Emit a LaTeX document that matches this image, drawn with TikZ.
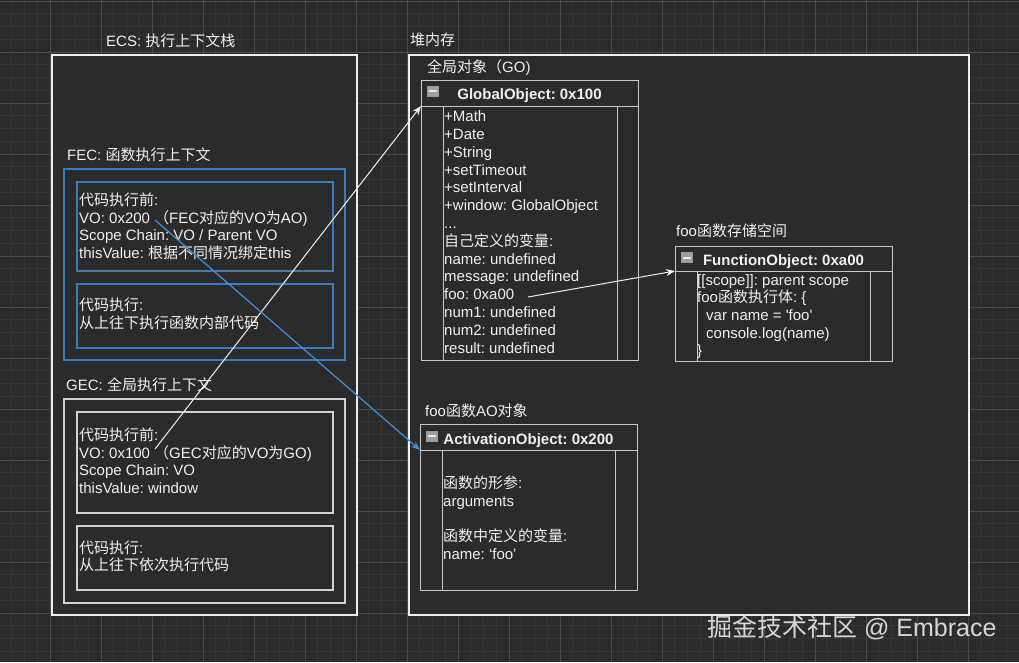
\documentclass[tikz,border=0pt]{standalone}
\usepackage{fontspec}
\usepackage{tikz}
\usetikzlibrary{arrows.meta}
\setmainfont{Liberation Sans}
\newfontfamily\cjk{Noto Sans CJK SC}
\newcommand{\zh}[1]{{\cjk #1}}
\frenchspacing
\definecolor{bg}{HTML}{2B2B2B}
\definecolor{gridminor}{HTML}{363636}
\definecolor{gridmajor}{HTML}{4A4A4A}
\definecolor{ink}{HTML}{F0F0F0}
\definecolor{ecsline}{HTML}{EDEDED}
\definecolor{fecblue}{HTML}{3A7BBD}
\definecolor{linkblue}{HTML}{3D8FE0}
\definecolor{gecline}{HTML}{D2D2D2}
\definecolor{boxline}{HTML}{C8C8C8}
\definecolor{markgray}{HTML}{D6D6D6}

\begin{document}
\begin{tikzpicture}[x=1pt,y=-1pt,>={Stealth[length=9pt,width=7pt]},
  frame/.style={draw=#1,fill=bg,line width=1.3pt,inner sep=0pt,outer sep=0pt,anchor=north west},
  classbox/.style={frame=boxline,line width=1pt},
  classline/.style={draw=boxline,line width=1pt},
  rowtext/.style={text=ink,font=\fontsize{15}{18}\selectfont,anchor=base west,inner sep=0pt},
  captext/.style={rowtext},
  titletext/.style={rowtext,anchor=base,font=\bfseries\fontsize{15}{18}\selectfont},
  minusbox/.style={draw=gray!80,fill=gray!75,minimum width=11pt,minimum height=10pt,inner sep=0pt,
    path picture={\draw[white!85!gray,line width=2pt] ([xshift=1.5pt]path picture bounding box.west) -- ([xshift=-1.5pt]path picture bounding box.east);}},
  link/.style={draw=ink,line width=1pt,->},
  bluelink/.style={draw=linkblue,line width=1.2pt,->},
  gridthin/.style={draw=gridminor,line width=0.6pt},
  gridthick/.style={draw=gridmajor,line width=0.8pt}]
	\path[use as bounding box,fill=bg] (0,0) rectangle (1019,662);
	\foreach \i in {1,...,79} \draw[gridthin] ({-1+12.75*\i},0) -- ({-1+12.75*\i},662);
	\foreach \j in {0,...,51} \draw[gridthin] (0,{1+12.75*\j}) -- (1019,{1+12.75*\j});
	\foreach \i in {1,...,20} \draw[gridthick] ({-1+51*\i},0) -- ({-1+51*\i},662);
	\foreach \j in {0,...,12} \draw[gridthick] (0,{1+51*\j}) -- (1019,{1+51*\j});

	\node[captext] (ecslbl) at (106,46) {ECS: \zh{执行上下文栈}};
	\node[frame=ecsline,minimum width=305pt,minimum height=560pt] (ecs) at (52,55) {};
	\node[captext] (feclbl) at (67,160.7) {FEC: \zh{函数执行上下文}};
	\node[frame=fecblue,minimum width=281pt,minimum height=191pt] (fec) at (64,169) {};
	\node[frame=fecblue,minimum width=256pt,minimum height=89pt] (fecpre) at (77,182) {};
	\node[frame=fecblue,minimum width=256pt,minimum height=64pt] (fecrun) at (77,284) {};
	\foreach \r [count=\i from 0] in {\zh{代码执行前}:, VO: 0x200 \zh{（}FEC\zh{对应的}VO\zh{为}AO), Scope Chain: VO / Parent VO, thisValue: \zh{根据不同情况绑定}this}
		\node[rowtext] (fecpre-\i) at (79,{205.5+17.5*\i}) {\r};
	\node[rowtext] (fecrun-0) at (79,310.7) {\zh{代码执行}:};
	\node[rowtext] (fecrun-1) at (79,328.2) {\zh{从上往下执行函数内部代码}};

	\node[captext] (geclbl) at (66,390) {GEC: \zh{全局执行上下文}};
	\node[frame=gecline,minimum width=281pt,minimum height=204pt] (gec) at (64,399) {};
	\node[frame=gecline,minimum width=256pt,minimum height=101pt] (gecpre) at (77,412) {};
	\node[frame=gecline,minimum width=256pt,minimum height=64pt] (gecrun) at (77,526) {};
	\foreach \r [count=\i from 0] in {\zh{代码执行前}:, VO: 0x100 \zh{（}GEC\zh{对应的}VO\zh{为}GO), Scope Chain: VO, thisValue: window}
		\node[rowtext] (gecpre-\i) at (79,{440.7+17.5*\i}) {\r};
	\node[rowtext] (gecrun-0) at (79,553.3) {\zh{代码执行}:};
	\node[rowtext] (gecrun-1) at (79,570.8) {\zh{从上往下依次执行代码}};

	\node[captext] (heaplbl) at (410,45) {\zh{堆内存}};
	\node[frame=ecsline,minimum width=560pt,minimum height=560pt] (heap) at (409,55) {};

	\node[captext] (golbl) at (427,72.7) {\zh{全局对象（}GO)};
	\node[classbox,minimum width=217pt,minimum height=280pt] (go) at (421,80) {};
	\draw[classline] ([yshift=-26pt]go.north west) coordinate (gohead) -- ([yshift=-26pt]go.north east);
	\draw[classline] ([xshift=22pt,yshift=-26pt]go.north west) -- ([xshift=22pt]go.south west);
	\draw[classline] ([xshift=-21pt,yshift=-26pt]go.north east) -- ([xshift=-21pt]go.south east);
	\node[minusbox] (gomin) at (432.5,91) {};
	\node[titletext] (gotitle) at (529.5,99.3) {GlobalObject: 0x100};
	\foreach \r [count=\i from 0] in {+Math, +Date, +String, +setTimeout, +setInterval, +window: GlobalObject, .\relax.\relax., \zh{自己定义的变量}:, name: undefined, message: undefined, foo: 0xa00, num1: undefined, num2: undefined, result: undefined}
		\node[rowtext] (go-\i) at (444,{121.7+17.8*\i}) {\r};

	\node[captext] (folbl) at (676,236) {foo\zh{函数存储空间}};
	\node[classbox,minimum width=217pt,minimum height=115pt] (fo) at (675,246) {};
	\draw[classline] ([yshift=-25pt]fo.north west) coordinate (fohead) -- ([yshift=-25pt]fo.north east);
	\draw[classline] ([xshift=22pt,yshift=-25pt]fo.north west) -- ([xshift=22pt]fo.south west);
	\draw[classline] ([xshift=-22pt,yshift=-25pt]fo.north east) -- ([xshift=-22pt]fo.south east);
	\node[minusbox] (fomin) at (686.5,257.5) {};
	\node[titletext] (fotitle) at (783.5,265) {FunctionObject: 0xa00};
	\foreach \r [count=\i from 0] in {{[[scope]]: parent scope}, foo\zh{函数执行体}: \{, \hspace{9pt}var name = \textquotesingle foo\textquotesingle, \hspace{9pt}console.log(name), \}}
		\node[rowtext] (fo-\i) at (697,{285+17.7*\i}) {\r};

	\node[captext] (aolbl) at (425,416) {foo\zh{函数}AO\zh{对象}};
	\node[classbox,minimum width=217pt,minimum height=166pt] (ao) at (420,424) {};
	\draw[classline] ([yshift=-26pt]ao.north west) coordinate (aohead) -- ([yshift=-26pt]ao.north east);
	\draw[classline] ([xshift=22pt,yshift=-26pt]ao.north west) -- ([xshift=22pt]ao.south west);
	\draw[classline] ([xshift=-22pt,yshift=-26pt]ao.north east) -- ([xshift=-22pt]ao.south east);
	\node[minusbox] (aomin) at (431.7,436) {};
	\node[titletext] (aotitle) at (528.5,444.3) {ActivationObject: 0x200};
	\foreach \y/\r [count=\i from 0] in {488.3/\zh{函数的形参}:, 506/arguments, 541.4/\zh{函数中定义的变量}:, 559/name: `foo'}
		\node[rowtext] (ao-\i) at (443,\y) {\r};

	\node[rowtext,text=markgray,font=\fontsize{25}{30}\selectfont] (mark) at (707,636) {\zh{掘金技术社区} @ Embrace};

	\coordinate (gvo) at (155,449);
	\coordinate (fvo) at (155,220);
	\coordinate (foo) at (528,297);
	\draw[link] (gvo) -- (gohead);
	\draw[bluelink] (fvo) -- (aohead);
	\draw[link] (foo) -- (fohead);
\end{tikzpicture}
\end{document}
